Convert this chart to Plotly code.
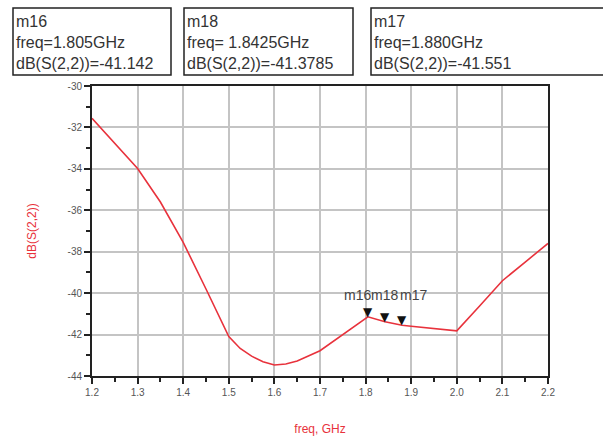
import plotly.graph_objects as go

# Data
freq = [1.2, 1.25, 1.3, 1.35, 1.4, 1.45, 1.5, 1.525, 1.55, 1.575, 1.6, 1.625, 1.65,
        1.7, 1.75, 1.805, 1.8425, 1.88, 1.9, 1.95, 2.0, 2.05, 2.1, 2.15, 2.2]
s22_db = [-31.56, -32.75, -33.98, -35.6, -37.55, -39.8, -42.1, -42.67, -43.04, -43.31,
          -43.47, -43.42, -43.28, -42.78, -42.02, -41.142, -41.3785, -41.551, -41.6,
          -41.7, -41.82, -40.62, -39.4, -38.5, -37.6]

marker_names = ["m16", "m18", "m17"]
marker_freq = [1.805, 1.8425, 1.880]
marker_val = [-41.142, -41.3785, -41.551]
marker_freq_txt = ["1.805GHz", " 1.8425GHz", "1.880GHz"]
marker_val_txt = ["-41.142", "-41.3785", "-41.551"]

x_ticks = [1.2, 1.3, 1.4, 1.5, 1.6, 1.7, 1.8, 1.9, 2.0, 2.1, 2.2]
y_ticks = [-44, -42, -40, -38, -36, -34, -32, -30]

RED = "#e8323c"
FONT = "Liberation Sans, Arial, sans-serif"

fig = go.Figure()
fig.add_trace(go.Scatter(x=freq, y=s22_db, mode="lines",
                         line=dict(color=RED, width=1.6), showlegend=False,
                         hoverinfo="x+y"))

# marker triangles (tip on the data point)
for fx, fv in zip(marker_freq, marker_val):
    fig.add_annotation(x=fx, y=fv, text="▼", showarrow=False,
                       yanchor="bottom", xanchor="center", yshift=-4,
                       font=dict(size=12, color="#111", family="DejaVu Sans"))
# marker labels, all on one line above the first marker (as in the reference)
for name, fx, dx in zip(marker_names, marker_freq, [-10, 0, 11]):
    fig.add_annotation(x=fx, y=marker_val[0], text=name, showarrow=False,
                       yanchor="middle", xanchor="center", yshift=22, xshift=dx,
                       font=dict(size=14, color="#444", family=FONT))

# marker readout boxes (pixel positions converted to paper coords)
L, R, T, B = 92, 548, 86, 376
W, H = R - L, B - T


def px(x):
    return (x - L) / W


def py(y):
    return (B - y) / H


boxes = [(13, 171), (184, 353), (371, 640)]
for (x0, x1), name, ft, vt in zip(boxes, marker_names, marker_freq_txt, marker_val_txt):
    fig.add_shape(type="rect", xref="paper", yref="paper",
                  x0=px(x0), x1=px(x1), y0=py(75), y1=py(8),
                  line=dict(color="#222", width=1.5), fillcolor="white", layer="above")
    fig.add_annotation(xref="paper", yref="paper", x=px(x0 + 1), y=py(11),
                       xanchor="left", yanchor="top", align="left", showarrow=False,
                       text=f"{name}<br>freq={ft}<br>dB(S(2,2))={vt}",
                       font=dict(size=16, color="#333", family=FONT))

fig.update_xaxes(range=[1.2, 2.2], tickvals=x_ticks,
                 ticktext=[f"{v:.1f}" for v in x_ticks],
                 showgrid=True, gridcolor="#c4c4c4", gridwidth=1.5,
                 showline=True, linecolor="#222", linewidth=2, mirror=True,
                 ticks="outside", ticklen=6, tickcolor="#222", tickwidth=1.5,
                 minor=dict(dtick=0.05, tick0=1.2, ticks="outside", ticklen=4,
                            tickcolor="#222", showgrid=False),
                 tickfont=dict(size=10, color="#555", family=FONT),
                 title=dict(text="freq, GHz", font=dict(size=12, color=RED, family=FONT),
                            standoff=28),
                 zeroline=False)
fig.update_yaxes(range=[-44, -30], tickvals=y_ticks,
                 ticktext=[str(v) for v in y_ticks],
                 showgrid=True, gridcolor="#c4c4c4", gridwidth=1.5,
                 showline=True, linecolor="#222", linewidth=2, mirror=True,
                 ticks="outside", ticklen=6, tickcolor="#222", tickwidth=1.5,
                 minor=dict(dtick=1, tick0=-44, ticks="outside", ticklen=4,
                            tickcolor="#222", showgrid=False),
                 tickfont=dict(size=10, color="#555", family=FONT),
                 title=dict(text="dB(S(2,2))", font=dict(size=12, color=RED, family=FONT),
                            standoff=28),
                 zeroline=False)

fig.update_layout(width=603, height=439,
                  margin=dict(l=L, r=603 - R, t=T, b=439 - B, autoexpand=False),
                  paper_bgcolor="white", plot_bgcolor="white",
                  showlegend=False)

fig.write_html("out.html", config={"displayModeBar": False},
               post_script="document.body.style.margin='0';document.body.style.overflow='hidden';")
